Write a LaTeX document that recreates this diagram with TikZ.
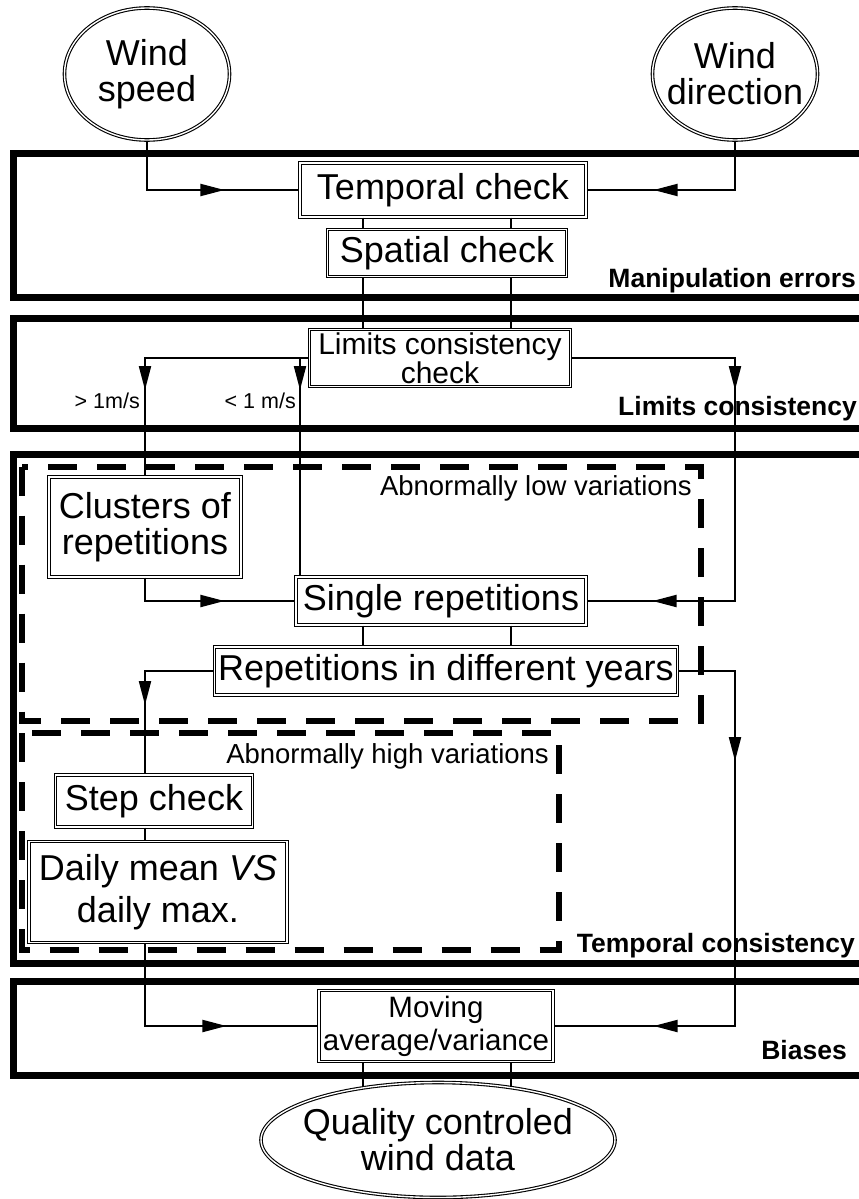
\documentclass[tikz,border=0pt]{standalone}
\usepackage{fontspec}
\setmainfont{Liberation Sans}
\usetikzlibrary{shapes.geometric,arrows.meta,decorations.markings}

\newcommand\boxfont{\fontsize{36}{36}\selectfont}
\newcommand\limfont{\fontsize{30}{25}\selectfont}
\newcommand\movfont{\fontsize{29.5}{33}\selectfont}

\tikzset{
  box/.style={draw,double,line width=1.1pt,double distance=1.4pt,inner sep=0pt,align=center,font=\boxfont},
  oval/.style={box,ellipse,inner sep=-14pt},
  frame/.style={line width=7pt},
  zone/.style={line width=6pt,dash pattern=on 29pt off 20pt},
  flow/.style={line width=2pt},
  tipat/.style={postaction={decorate,decoration={markings,
      mark=at position #1 with {\arrow{Triangle[length=24pt,width=12pt]}}}}},
  stagelabel/.style={font=\bfseries\fontsize{26.5}{27}\selectfont,anchor=base east,inner sep=0pt},
  zonelabel/.style={font=\fontsize{27.5}{28}\selectfont,anchor=base east,inner sep=0pt},
  ratelabel/.style={font=\fontsize{21.5}{22}\selectfont,anchor=base east,inner sep=0pt},
}

\begin{document}
\begin{tikzpicture}[x=1pt,y=-1pt]
  \clip (0,0) rectangle (859,1199);
  % stages
  \draw[frame] (13.5,153) rectangle (880,297);
  \draw[frame] (13.5,318.5) rectangle (880,428);
  \draw[frame] (13.5,454) rectangle (880,963);
  \draw[frame] (13.5,981) rectangle (880,1075);
  \node[stagelabel] (manip) at (856,287) {Manipulation errors};
  \node[stagelabel] (limits) at (857,415) {Limits consistency};
  \node[stagelabel] (temporal) at (855,952) {Temporal consistency};
  \node[stagelabel] (biases) at (847,1059) {Biases};
  % zones
  \draw[zone] (21.5,466.5) rectangle (701,721);
  \draw[zone] (21.5,733) rectangle (559,950);
  \node[zonelabel] (lowvar) at (692,495) {Abnormally low variations};
  \node[zonelabel] (highvar) at (549,763) {Abnormally high variations};

  \node[oval,minimum width=165,minimum height=132] (speed) at (147,74) {Wind\\speed};
  \node[oval,minimum width=165,minimum height=132] (direction) at (735,74) {Wind\\direction};
  \node[box,minimum width=286,minimum height=54] (tempchk) at (443,190) {Temporal check};
  \node[box,minimum width=239,minimum height=47] (spatchk) at (447,253) {Spatial check};
  \node[box,font=\limfont,minimum width=261,minimum height=57] (limchk) at (440,358) {Limits consistency\\check};
  \node[box,minimum width=192,minimum height=100] (clusters) at (145,527) {Clusters of\\repetitions};
  \node[box,minimum width=290,minimum height=48] (single) at (441,601) {Single repetitions};
  \node[box,minimum width=463,minimum height=48] (years) at (446,671) {Repetitions in different years};
  \node[box,minimum width=197,minimum height=52] (stepchk) at (154,801) {Step check};
  \node[box,font={\fontsize{36}{42}\selectfont},minimum width=258,minimum height=101] (dailychk) at (158,892) {Daily mean \textit{VS}\\daily max.};
  \node[box,font=\movfont,minimum width=234,minimum height=71] (moving) at (436,1026) {Moving\\average/variance};
  \node[oval,minimum width=354,minimum height=115] (quality) at (438,1140) {Quality controled\\wind data};

  \node[ratelabel] (fast) at (140,408) {> 1m/s};
  \node[ratelabel] (slow) at (296,408) {< 1 m/s};

  \coordinate (linkL) at (363,0);
  \coordinate (linkR) at (511,0);
  \coordinate (lowsplit) at (300,0);

  % connectors
  \draw[flow,tipat=-75pt] (speed.south) |- (tempchk.west);
  \draw[flow,tipat=-67pt] (direction.south) |- (tempchk.east);
  \foreach \lk in {linkL,linkR}{
    \draw[flow] (tempchk.south -| \lk) -- (spatchk.north -| \lk);
    \draw[flow] (spatchk.south -| \lk) -- (limchk.north -| \lk);
    \draw[flow] (single.south -| \lk) -- (years.north -| \lk);
  }
  \draw[flow] (moving.south -| linkL) -- (linkL |- quality.145);
  \draw[flow] (moving.south -| linkR) -- (linkR |- quality.35);
  \draw[flow,tipat=196pt] (limchk.west) -| (clusters.north);
  \draw[flow,tipat=32pt] (limchk.west -| lowsplit) -- (single.north -| lowsplit);
  \draw[flow,tipat=196pt,tipat=-66pt] (limchk.east) -| (direction.south |- single.east) -- (single.east);
  \draw[flow,tipat=-71pt] (clusters.south) |- (single.west);
  \draw[flow,tipat=103pt] (years.west) -| (clusters.south |- stepchk.north);
  \draw[flow,tipat=147pt,tipat=-100pt] (years.east) -| (direction.south |- moving.east) -- (moving.east);
  \draw[flow] (clusters.south |- stepchk.south) -- (clusters.south |- dailychk.north);
  \draw[flow,tipat=-92pt] (clusters.south |- dailychk.south) |- (moving.west);
\end{tikzpicture}
\end{document}
